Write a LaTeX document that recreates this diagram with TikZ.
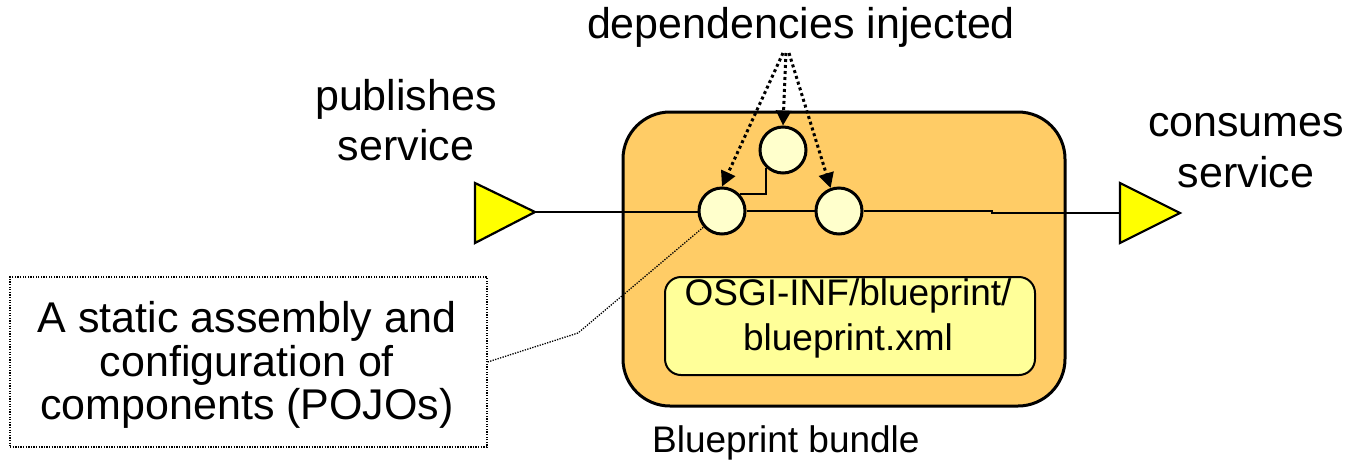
\documentclass[tikz,border=0pt]{standalone}
\usepackage{fontspec}
\setmainfont{Liberation Sans}
\usetikzlibrary{arrows.meta}
\definecolor{bundleorange}{HTML}{FFCC66}
\definecolor{xmlyellow}{HTML}{FFFF99}
\definecolor{beanyellow}{HTML}{FFFFCC}
\definecolor{portyellow}{HTML}{FFFF00}
\begin{document}
\begin{tikzpicture}[x=1pt,y=-1pt,
  bigtxt/.style={font=\fontsize{43}{46}\selectfont, inner sep=0pt, anchor=base},
  midtxt/.style={font=\fontsize{37}{42}\selectfont, inner sep=0pt, anchor=base},
  bean/.style={circle, draw, line width=3pt, fill=beanyellow, minimum size=46pt, inner sep=0pt},
  port/.style={draw, line width=2.2pt, fill=portyellow, line join=miter},
  wire/.style={line width=2pt},
  dep/.style={line width=3pt, dash pattern=on 3pt off 3pt, -{Triangle[length=15pt,width=15pt]}},
  callout/.style={line width=1.3pt, dash pattern=on 1.3pt off 1.3pt}
]
\useasboundingbox (0,0) rectangle (1345,459);

% bundle
\node[draw, line width=3pt, fill=bundleorange, rounded corners=47pt,
      minimum width=442pt, minimum height=294pt, inner sep=0pt] (bundle) at (844,259) {};
\node[draw, line width=2pt, fill=xmlyellow, rounded corners=16pt,
      minimum width=370pt, minimum height=98pt, inner sep=0pt] (xml) at (850,326) {};
\node[midtxt] (xml1) at (848,305) {OSGI-INF/blueprint/};
\node[midtxt] (xml2) at (848,350) {blueprint.xml};
\node[midtxt, anchor=base west] (bname) at (652,452) {Blueprint bundle};

% ports
\coordinate (tipL) at (535,212);
\coordinate (tipR) at (1180,213);
\coordinate (baseR) at (1120,213);
\draw[port] (475,183) -- (tipL) -- (475,243) -- cycle;
\draw[port] (1120,183) -- (tipR) -- (1120,243) -- cycle;

% beans
\node[bean] (cA) at (722,211) {};
\node[bean] (cB) at (783,150) {};
\node[bean] (cC) at (839,211) {};

% wires
\coordinate (stepA) at (992,211);
\coordinate (stepB) at (992,213);
\draw[wire] (tipL) -- (tipL -| cA.west);
\draw[wire] (cA.east) -- (cC.west);
\draw[wire] (cC.east) -- (stepA) -- (stepB) -- (baseR);
\draw[wire, line width=2.5pt] (cB.226) |- (cA.44);

% labels
\node[bigtxt] (deps) at (801,38) {dependencies injected};
\node[bigtxt] (pub1) at (406,110) {publishes};
\node[bigtxt] (pub2) at (406,160) {service};
\node[bigtxt] (con1) at (1246,136) {consumes};
\node[bigtxt] (con2) at (1246,187) {service};

% dependency arrows
\coordinate (srcL) at (783,53);
\coordinate (srcM) at (786,53);
\coordinate (srcR) at (789,53);
\draw[dep] (srcL) -- (cA.north);
\draw[dep] (srcM) -- (cB.north);
\draw[dep] (srcR) -- (cC.110);

% note
\node[draw, callout, minimum width=477pt, minimum height=170pt, inner sep=0pt] (note) at (248.5,362) {};
\node[bigtxt] (n1) at (247,332) {A static assembly and};
\node[bigtxt] (n2) at (247,376) {configuration of};
\node[bigtxt] (n3) at (247,419) {components (POJOs)};
\coordinate (bend) at (578,333);
\draw[callout] (note.east) -- (bend) -- (cA.221);
\end{tikzpicture}
\end{document}
